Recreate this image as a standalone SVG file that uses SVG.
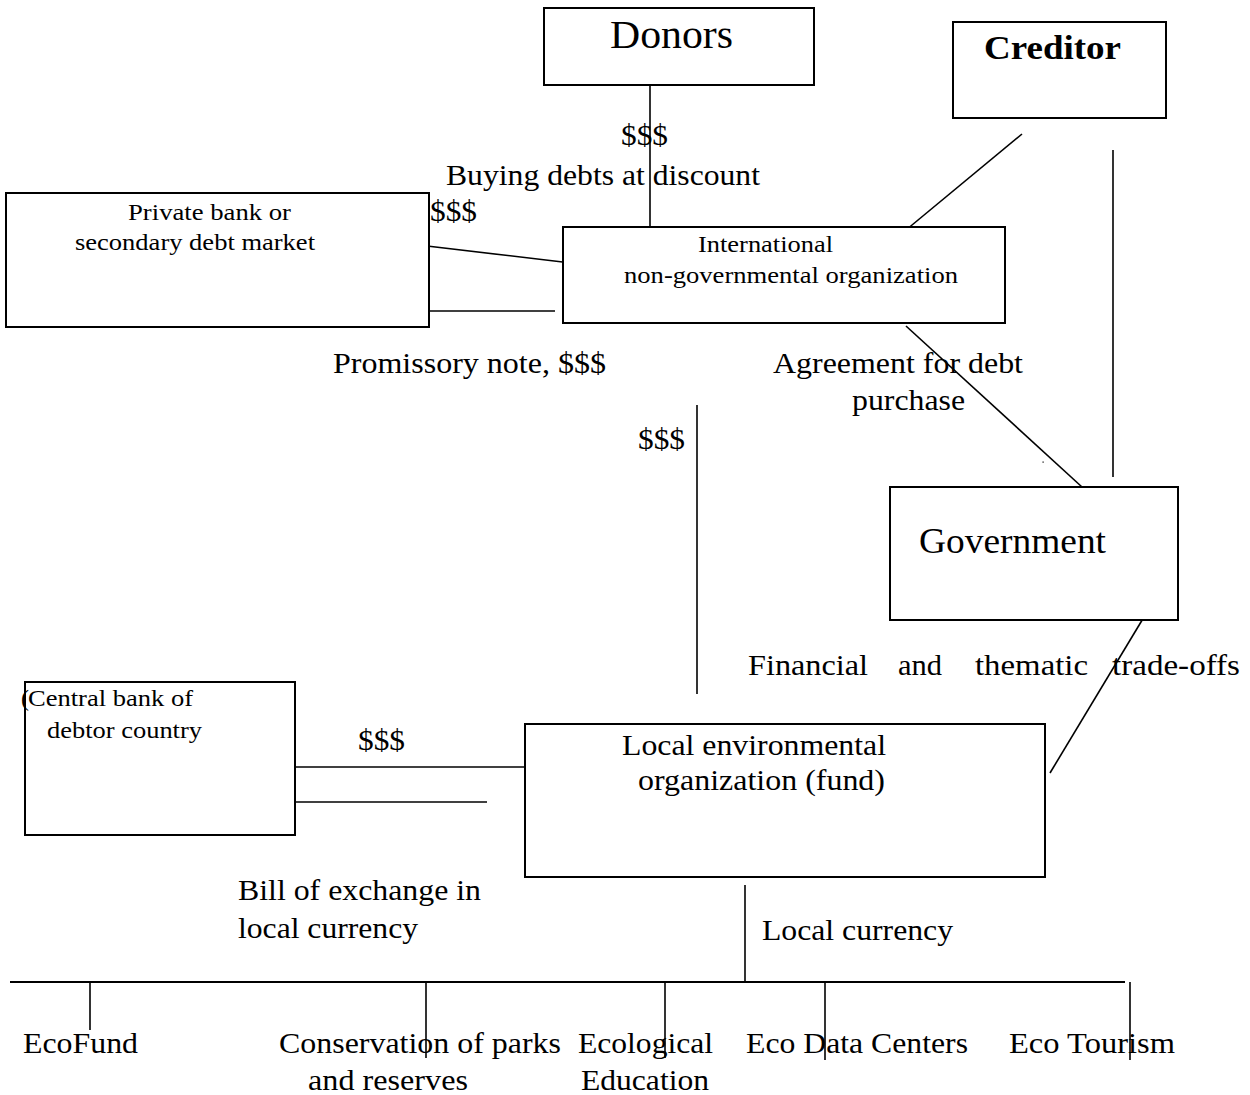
<svg xmlns="http://www.w3.org/2000/svg" width="1250" height="1095" viewBox="0 0 1250 1095" font-family="Liberation Serif, Times New Roman, serif">
<style>
.box{fill:#fff;stroke:#000;stroke-width:2}
.ln{stroke:#000;stroke-width:1.6;fill:none}
.lg{font-size:29px}
.sm{font-size:24px}
</style>
<rect width="1250" height="1095" fill="#fff"/>
<g id="connectors">
<line class="ln" x1="650" y1="85" x2="650" y2="231"/>
<line class="ln" x1="427" y1="246" x2="571" y2="263"/>
<line class="ln" x1="427" y1="311" x2="555" y2="311"/>
<line class="ln" x1="1022" y1="134" x2="906" y2="230"/>
<line class="ln" x1="1113" y1="150" x2="1113" y2="477"/>
<line class="ln" x1="906" y1="326" x2="1082" y2="487"/>
<rect x="1042.5" y="461.5" width="1.2" height="1.2" fill="#000"/>
<line class="ln" x1="697" y1="405" x2="697" y2="694"/>
<line class="ln" x1="1147" y1="612" x2="1050" y2="773"/>
<line class="ln" x1="295" y1="767" x2="544" y2="767"/>
<line class="ln" x1="295" y1="802" x2="487" y2="802"/>
<line class="ln" x1="745" y1="885" x2="745" y2="982"/>
<line x1="10" y1="982" x2="1125" y2="982" stroke="#000" stroke-width="2.2"/>
<line class="ln" x1="90" y1="982" x2="90" y2="1030"/>
<line class="ln" x1="426" y1="982" x2="426" y2="1058"/>
<line class="ln" x1="665" y1="982" x2="665" y2="1058"/>
<line class="ln" x1="825" y1="982" x2="825" y2="1060"/>
<line class="ln" x1="1130" y1="982" x2="1130" y2="1060"/>
</g>
<g id="donors">
<rect class="box" x="544" y="8" width="270" height="77"/>
<text x="610" y="48" font-size="40" textLength="123" lengthAdjust="spacingAndGlyphs">Donors</text>
</g>
<g id="creditor">
<rect class="box" x="953" y="22" width="213" height="96"/>
<text x="984" y="59" font-size="33" font-weight="bold" textLength="137" lengthAdjust="spacingAndGlyphs">Creditor</text>
</g>
<g id="private-bank">
<rect class="box" x="6" y="193" width="423" height="134"/>
<text class="sm" x="128" y="220" textLength="163" lengthAdjust="spacingAndGlyphs">Private bank or</text>
<text class="sm" x="75" y="250" textLength="240" lengthAdjust="spacingAndGlyphs">secondary debt market</text>
</g>
<g id="ingo">
<rect class="box" x="563" y="227" width="442" height="96"/>
<text class="sm" x="698" y="252" textLength="135" lengthAdjust="spacingAndGlyphs">International</text>
<text class="sm" x="624" y="283" textLength="334" lengthAdjust="spacingAndGlyphs">non-governmental organization</text>
</g>
<g id="government">
<rect class="box" x="890" y="487" width="288" height="133"/>
<text x="919" y="553" font-size="36" textLength="187" lengthAdjust="spacingAndGlyphs">Government</text>
</g>
<g id="central-bank">
<rect class="box" x="25" y="682" width="270" height="153"/>
<text class="sm" x="21" y="706">(</text>
<text class="sm" x="28" y="706" textLength="165" lengthAdjust="spacingAndGlyphs">Central bank of</text>
<text class="sm" x="47" y="738" textLength="155" lengthAdjust="spacingAndGlyphs">debtor country</text>
</g>
<g id="local-env">
<rect class="box" x="525" y="724" width="520" height="153"/>
<text class="lg" x="622" y="755" textLength="264" lengthAdjust="spacingAndGlyphs">Local environmental</text>
<text class="lg" x="638" y="790" textLength="247" lengthAdjust="spacingAndGlyphs">organization (fund)</text>
</g>
<g id="labels">
<text class="lg" x="621" y="145" textLength="47" lengthAdjust="spacingAndGlyphs">$$$</text>
<text class="lg" x="446" y="185" textLength="314" lengthAdjust="spacingAndGlyphs">Buying debts at discount</text>
<text class="lg" x="430" y="221" textLength="47" lengthAdjust="spacingAndGlyphs">$$$</text>
<text class="lg" x="333" y="373" textLength="273" lengthAdjust="spacingAndGlyphs">Promissory note, $$$</text>
<text class="lg" x="773" y="373" textLength="250" lengthAdjust="spacingAndGlyphs">Agreement for debt</text>
<text class="lg" x="852" y="410" textLength="113" lengthAdjust="spacingAndGlyphs">purchase</text>
<text class="lg" x="638" y="449" textLength="47" lengthAdjust="spacingAndGlyphs">$$$</text>
<text class="lg" x="748" y="675" textLength="120" lengthAdjust="spacingAndGlyphs">Financial</text>
<text class="lg" x="898" y="675" textLength="44" lengthAdjust="spacingAndGlyphs">and</text>
<text class="lg" x="975" y="675" textLength="113" lengthAdjust="spacingAndGlyphs">thematic</text>
<text class="lg" x="1112" y="675" textLength="128" lengthAdjust="spacingAndGlyphs">trade-offs</text>
<text class="lg" x="358" y="750" textLength="47" lengthAdjust="spacingAndGlyphs">$$$</text>
<text class="lg" x="238" y="900" textLength="243" lengthAdjust="spacingAndGlyphs">Bill of exchange in</text>
<text class="lg" x="238" y="938" textLength="180" lengthAdjust="spacingAndGlyphs">local currency</text>
<text class="lg" x="762" y="940" textLength="191" lengthAdjust="spacingAndGlyphs">Local currency</text>
<text class="lg" x="23" y="1053" textLength="115" lengthAdjust="spacingAndGlyphs">EcoFund</text>
<text class="lg" x="279" y="1053" textLength="282" lengthAdjust="spacingAndGlyphs">Conservation of parks</text>
<text class="lg" x="308" y="1090" textLength="160" lengthAdjust="spacingAndGlyphs">and reserves</text>
<text class="lg" x="578" y="1053" textLength="135" lengthAdjust="spacingAndGlyphs">Ecological</text>
<text class="lg" x="581" y="1090" textLength="128" lengthAdjust="spacingAndGlyphs">Education</text>
<text class="lg" x="746" y="1053" textLength="222" lengthAdjust="spacingAndGlyphs">Eco Data Centers</text>
<text class="lg" x="1009" y="1053" textLength="166" lengthAdjust="spacingAndGlyphs">Eco Tourism</text>
</g>
</svg>
